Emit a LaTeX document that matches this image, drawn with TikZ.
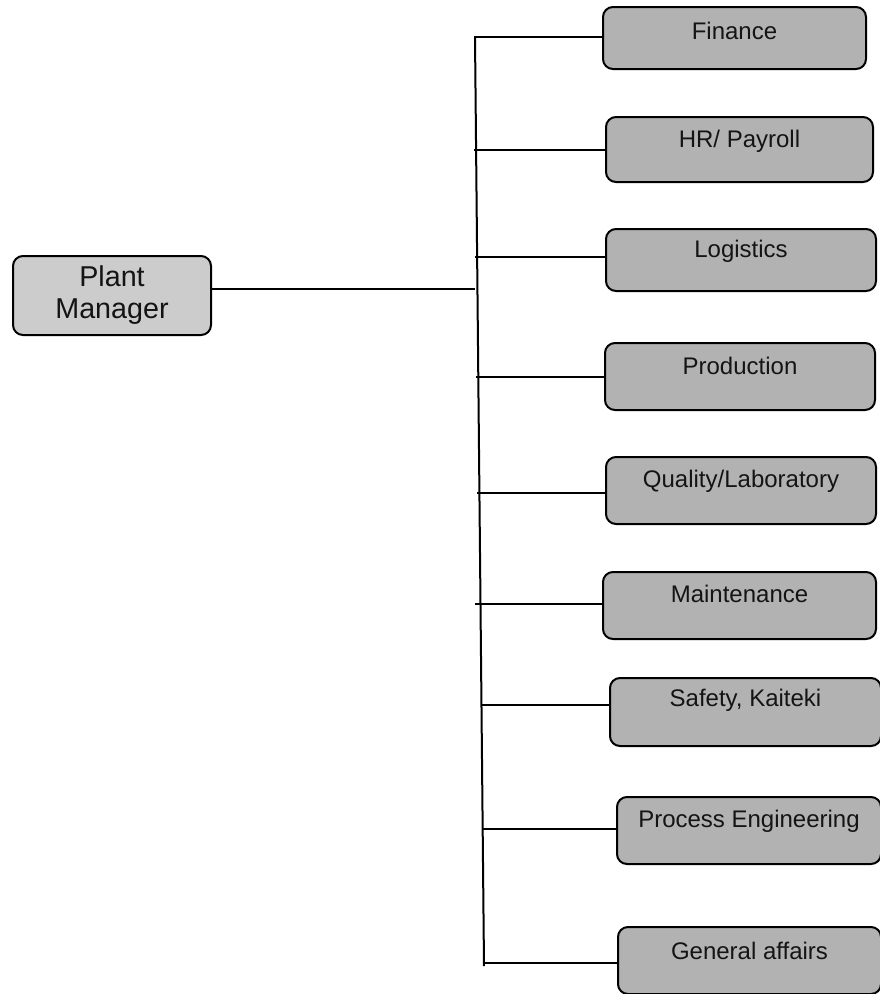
\documentclass[tikz,border=0pt]{standalone}
\usepackage{fontspec}
\setmainfont{Liberation Sans}
\definecolor{deptfill}{RGB}{178,178,178}
\definecolor{pmfill}{RGB}{204,204,204}
\definecolor{txt}{RGB}{20,20,20}
\begin{document}
\begin{tikzpicture}[x=1pt,y=-1pt,
  box/.style={draw=black,line width=2pt,rounded corners=10pt,fill=deptfill,inner sep=0pt},
  pmbox/.style={draw=black,line width=2pt,rounded corners=10pt,fill=pmfill,inner sep=0pt,
    align=center,font=\fontsize{28.7}{32}\selectfont,text=txt},
  dtext/.style={font=\fontsize{24}{28}\selectfont,text=txt,inner sep=0pt},
  link/.style={draw=black,line width=2pt}]
\useasboundingbox (0,0) rectangle (880,994);
\clip (0,0) rectangle (880,994);
% Plant manager
\node[pmbox,minimum width=198pt,minimum height=79pt] (pm) at (112,295.5) {Plant\\Manager};
% department boxes
\node[box,minimum width=263pt,minimum height=62pt] (fin) at (734.5,38) {};
\node[box,minimum width=267pt,minimum height=65pt] (hr) at (739.5,149.5) {};
\node[box,minimum width=270pt,minimum height=62pt] (log) at (741,260) {};
\node[box,minimum width=270pt,minimum height=67pt] (prod) at (740,376.5) {};
\node[box,minimum width=270pt,minimum height=67pt] (qual) at (741,490.5) {};
\node[box,minimum width=273pt,minimum height=67pt] (maint) at (739.5,605.5) {};
\node[box,minimum width=271pt,minimum height=68pt] (safe) at (745.5,712) {};
\node[box,minimum width=264pt,minimum height=67pt] (proc) at (749,830.5) {};
\node[box,minimum width=263pt,minimum height=67pt] (gen) at (749.5,960.5) {};
% texts
\node[dtext] (fint) at ([yshift=-25pt]fin.north) {Finance};
\node[dtext] (hrt) at ([yshift=-25pt]hr.north) {HR/ Payroll};
\node[dtext] (logt) at ([yshift=-23pt]log.north) {Logistics};
\node[dtext] (prodt) at ([yshift=-24pt]prod.north) {Production};
\node[dtext] (qualt) at ([yshift=-25pt]qual.north) {Quality/Laboratory};
\node[dtext] (maintt) at ([yshift=-23pt]maint.north) {Maintenance};
\node[dtext] (safet) at ([yshift=-23pt]safe.north) {Safety, Kaiteki};
\node[dtext] (proct) at ([yshift=-25pt]proc.north) {Process Engineering};
\node[dtext] (gent) at ([yshift=-25pt]gen.north) {General affairs};
% trunk
\coordinate (vtop) at (475,37);
\coordinate (vbot) at (484,966);
\draw[link] (vtop) -- (vbot);
% branch points
\coordinate (cfin) at (474,37);
\coordinate (chr) at (474,150);
\coordinate (clog) at (475,257);
\coordinate (cprod) at (476,377);
\coordinate (cqual) at (477,493);
\coordinate (cmaint) at (475,604);
\coordinate (csafe) at (481,705);
\coordinate (cproc) at (482,829);
\coordinate (cgen) at (483,963);
\coordinate (cpm) at (475,289);
\draw[link] (cpm -| pm.east) -- (cpm);
\draw[link] (cfin) -- (cfin -| fin.west);
\draw[link] (chr) -- (chr -| hr.west);
\draw[link] (clog) -- (clog -| log.west);
\draw[link] (cprod) -- (cprod -| prod.west);
\draw[link] (cqual) -- (cqual -| qual.west);
\draw[link] (cmaint) -- (cmaint -| maint.west);
\draw[link] (csafe) -- (csafe -| safe.west);
\draw[link] (cproc) -- (cproc -| proc.west);
\draw[link] (cgen) -- (cgen -| gen.west);
\end{tikzpicture}
\end{document}
